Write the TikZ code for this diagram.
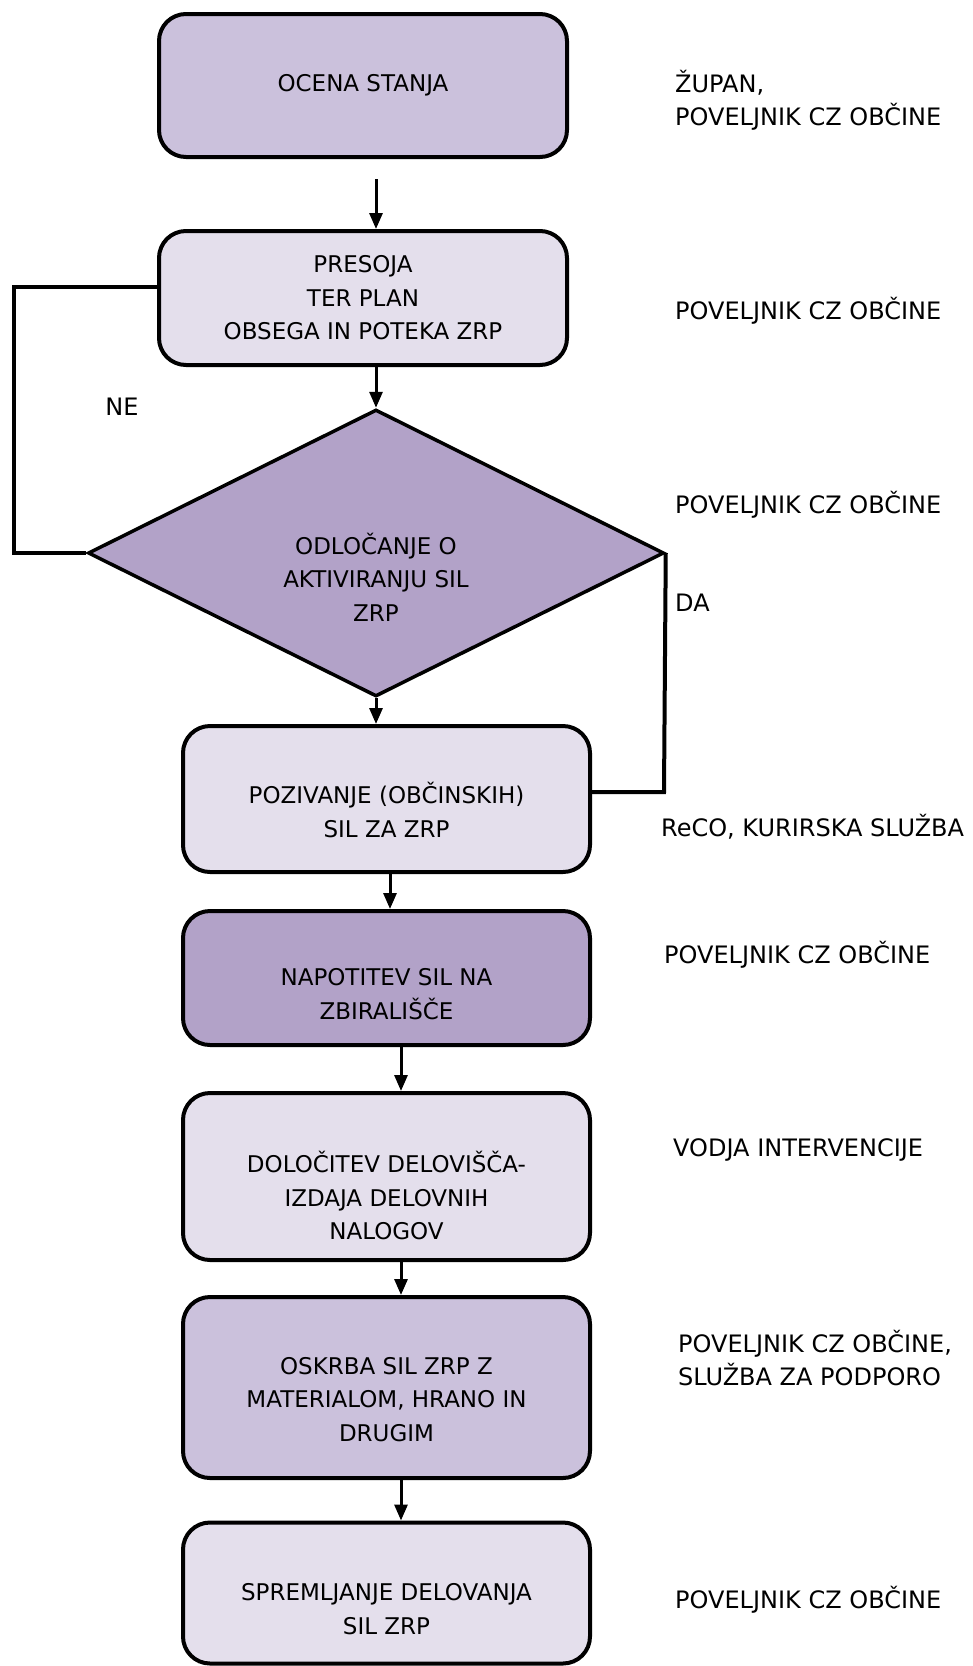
\documentclass[tikz,border=0pt]{standalone}
\usepackage{fontspec}
\setmainfont{DejaVu Sans}
\usetikzlibrary{shapes.geometric,arrows.meta}
\definecolor{cmid}{HTML}{CBC1DC}
\definecolor{clight}{HTML}{E4DFEC}
\definecolor{cdark}{HTML}{B2A2C8}
\begin{document}
\begin{tikzpicture}[x=1pt,y=-1pt,
  box/.style={draw,line width=4pt,rounded corners=27pt,inner sep=0pt,align=center,
    font=\fontsize{23pt}{33.5pt}\selectfont},
  wbox/.style={box,minimum width=408pt},
  nbox/.style={box,minimum width=407pt},
  btext/.style={align=center,font=\fontsize{23pt}{33.5pt}\selectfont,inner sep=0pt},
  side/.style={anchor=west,align=left,inner sep=0pt,font=\fontsize{24pt}{33pt}\selectfont},
  decision/.style={diamond,draw,line width=3.5pt,fill=cdark,inner sep=0pt,aspect=2,
    minimum width=576pt,minimum height=287pt},
  arr/.style={line width=3pt,-{Triangle[length=16pt,width=13pt]}},
  loopline/.style={line width=4pt}
]
\useasboundingbox (0,0) rectangle (973,1666);

% boxes
\node[wbox,fill=cmid,minimum height=143pt] (b1) at (363,85.5) {OCENA STANJA};
\node[wbox,fill=clight,minimum height=134pt] (b2) at (363,298) {PRESOJA\\TER PLAN\\OBSEGA IN POTEKA ZRP};
\node[decision,label={[btext,yshift=-24pt]center:ODLOČANJE O\\AKTIVIRANJU SIL\\ZRP}] (d) at (376,553) {};
\node[nbox,fill=clight,minimum height=146pt,label={[btext,yshift=-11pt]center:POZIVANJE (OBČINSKIH)\\SIL ZA ZRP}] (b3) at (386.5,799) {};
\node[nbox,fill=cdark,minimum height=134pt,label={[btext,yshift=-16pt]center:NAPOTITEV SIL NA\\ZBIRALIŠČE}] (b4) at (386.5,978) {};
\node[nbox,fill=clight,minimum height=167pt,label={[btext,yshift=-19pt]center:DOLOČITEV DELOVIŠČA-\\IZDAJA DELOVNIH\\NALOGOV}] (b5) at (386.5,1176.5) {};
\node[nbox,fill=cmid,minimum height=181pt,label={[btext,yshift=-12pt]center:OSKRBA SIL ZRP Z\\MATERIALOM, HRANO IN\\DRUGIM}] (b6) at (386.5,1387.5) {};
\node[nbox,fill=clight,minimum height=141pt,label={[btext,yshift=-16pt]center:SPREMLJANJE DELOVANJA\\SIL ZRP}] (b7) at (386.5,1593) {};

% side texts
\node[side] (s1) at (675,100) {ŽUPAN,\\POVELJNIK CZ OBČINE};
\node[side] (s2) at (675,311) {POVELJNIK CZ OBČINE};
\node[side] (s3) at (675,505) {POVELJNIK CZ OBČINE};
\node[side] (s4) at (661,827) {ReCO, KURIRSKA SLUŽBA};
\node[side] (s5) at (664,955) {POVELJNIK CZ OBČINE};
\node[side] (s6) at (673,1150) {VODJA INTERVENCIJE};
\node[side] (s7) at (678,1358.5) {POVELJNIK CZ OBČINE,\\SLUŽBA ZA PODPORO};
\node[side] (s8) at (675,1600) {POVELJNIK CZ OBČINE};
\node[side,anchor=center] (ne) at (122,407) {NE};
\node[side] (da) at (675,603) {DA};

% arrows
\coordinate (a1) at (376,179);
\draw[arr] (a1) -- (a1 |- b2.north);
\draw[arr] (b2.south -| d.north) -- (d.north);
\draw[arr] (d.south) -- (d.south |- b3.north);
\draw[arr] ([xshift=3.5pt]b3.south) -- ([xshift=3.5pt]b3.south |- b4.north);
\draw[arr] ([xshift=14.5pt]b4.south) -- ([xshift=14.5pt]b4.south |- b5.north);
\draw[arr] ([xshift=14.5pt]b5.south) -- ([xshift=14.5pt]b5.south |- b6.north);
\draw[arr] ([xshift=14.5pt]b6.south) -- ([xshift=14.5pt]b6.south |- b7.north);

% loops
\coordinate (ne1) at (14,287);
\coordinate (ne2) at (14,553);
\draw[loopline] ([yshift=11pt]b2.west) -- (ne1) -- (ne2) -- (d.west);
\coordinate (da1) at (664,792);
\draw[loopline] (d.east) -- (da1) -- (da1 -| b3.east);
\end{tikzpicture}
\end{document}
